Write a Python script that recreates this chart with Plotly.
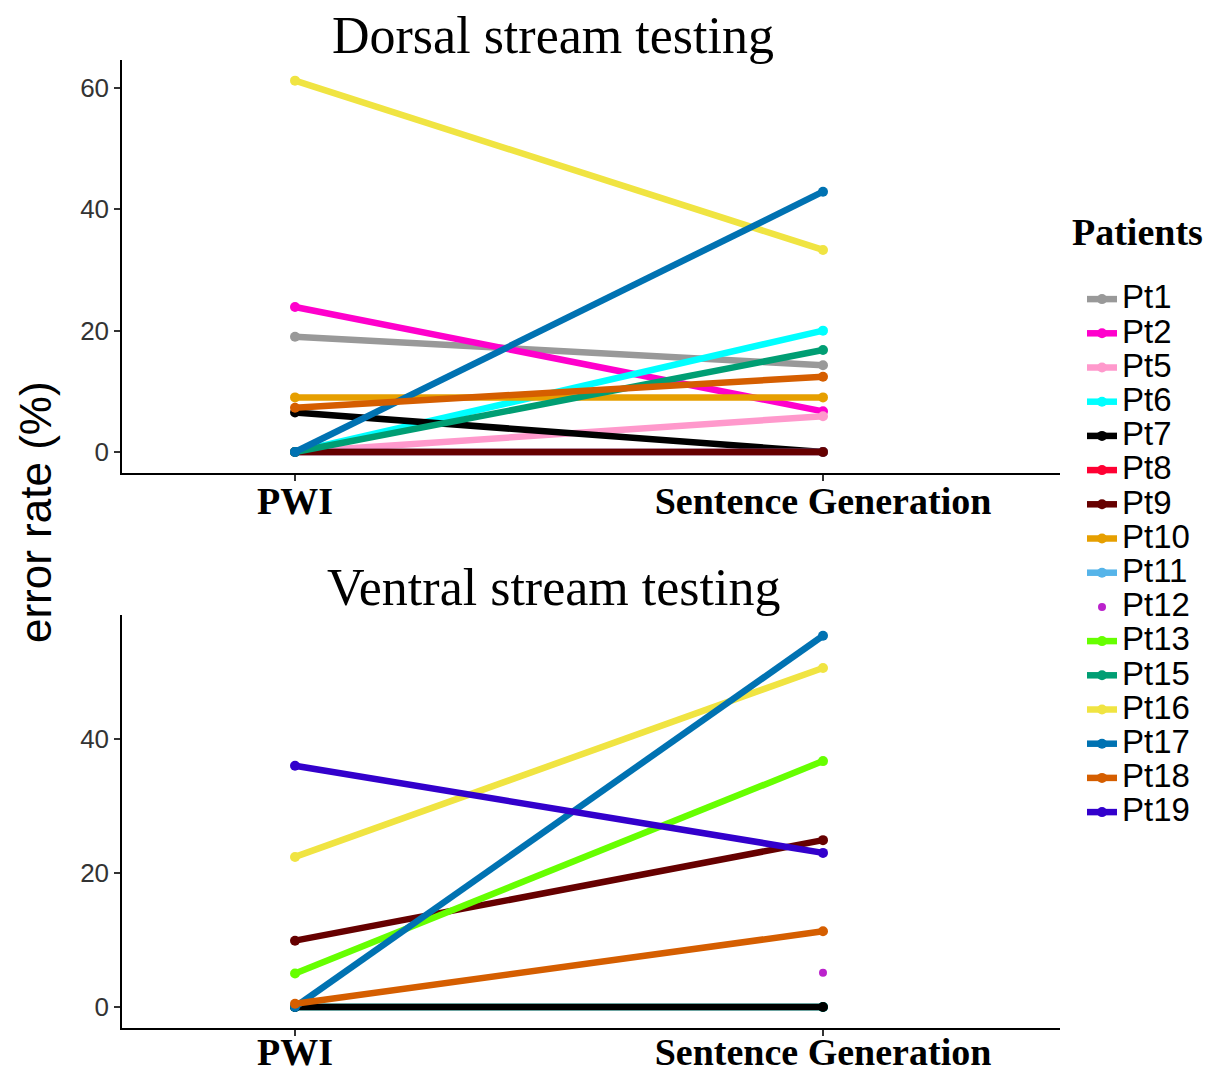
import plotly.graph_objects as go

conditions = ["PWI", "Sentence Generation"]
patients = ["Pt1", "Pt2", "Pt5", "Pt6", "Pt7", "Pt8", "Pt9", "Pt10", "Pt11",
            "Pt12", "Pt13", "Pt15", "Pt16", "Pt17", "Pt18", "Pt19"]
colors = {
    "Pt1": "#999999", "Pt2": "#ff00cc", "Pt5": "#ff99cc", "Pt6": "#00ffff",
    "Pt7": "#000000", "Pt8": "#ff0033", "Pt9": "#660000", "Pt10": "#e69f00",
    "Pt11": "#56b4e9", "Pt12": "#bb22cc", "Pt13": "#66ff00", "Pt15": "#009e73",
    "Pt16": "#f0e442", "Pt17": "#0072b2", "Pt18": "#d55e00", "Pt19": "#3300cc",
}

# Dorsal stream testing (error rate %, [PWI, Sentence Generation])
dorsal = {
    "Pt1": [19.0, 14.3], "Pt2": [23.9, 6.7], "Pt5": [0.0, 5.9], "Pt6": [0.0, 20.0],
    "Pt7": [6.5, 0.0], "Pt8": [0.0, 0.0], "Pt11": [0.0, 0.0], "Pt9": [0.0, 0.0],
    "Pt10": [9.0, 9.0], "Pt15": [0.0, 16.8], "Pt16": [61.2, 33.3],
    "Pt17": [0.0, 42.9], "Pt18": [7.3, 12.4],
}
dorsal_order = ["Pt1", "Pt2", "Pt5", "Pt6", "Pt7", "Pt8", "Pt11", "Pt9", "Pt10",
                "Pt15", "Pt16", "Pt17", "Pt18"]

# Ventral stream testing
ventral = {
    "Pt5": [0.0, 0.0], "Pt6": [0.0, 0.0], "Pt15": [0.0, 0.0], "Pt7": [0.0, 0.0],
    "Pt9": [9.9, 24.9], "Pt12": [None, 5.1], "Pt13": [5.0, 36.7],
    "Pt16": [22.4, 50.6], "Pt17": [0.0, 55.4], "Pt18": [0.5, 11.3], "Pt19": [36.0, 23.0],
}
ventral_order = ["Pt5", "Pt6", "Pt15", "Pt7", "Pt9", "Pt12", "Pt13", "Pt16",
                 "Pt17", "Pt18", "Pt19"]

fig = go.Figure()
shown = set()
legend_name = lambda p: f"<span style='font-size:33px'>{p}</span>"


def add(p, vals, xa, ya):
    first = p not in shown
    shown.add(p)
    only_marker = p == "Pt12"
    fig.add_trace(go.Scatter(
        x=conditions, y=vals, xaxis=xa, yaxis=ya,
        mode="markers" if only_marker else "lines+markers",
        name=legend_name(p), legendgroup=p, showlegend=first,
        legendrank=patients.index(p) + 1,
        line=dict(color=colors[p], width=6.5),
        marker=dict(color=colors[p], size=10 if not only_marker else 8),
    ))


for p in dorsal_order:
    add(p, dorsal[p], "x", "y")
for p in ventral_order:
    add(p, ventral[p], "x2", "y2")

# page has an 8px body margin: figure pixel = page pixel - OFF
OFF = 8
W, H = 1225 - OFF, 1076 - OFF
px = lambda v: (v - OFF) / W
py = lambda v: 1 - (v - OFF) / H

xd = [px(122), px(1060)]
xr = [-0.3277, 1.4489]
axis_common = dict(showline=True, linecolor="black", linewidth=1.5, ticks="outside",
                   ticklen=6, tickwidth=1.5, tickcolor="#333333", showgrid=False,
                   zeroline=False, automargin=False)
xfont = dict(family="Liberation Serif", size=38, color="black", weight="bold")
yfont = dict(family="Liberation Sans", size=26, color="#333333")

fig.update_layout(
    width=W, height=H,
    margin=dict(l=0, r=0, t=0, b=0, autoexpand=False),
    paper_bgcolor="white", plot_bgcolor="white",
    xaxis=dict(domain=xd, type="category", range=xr, anchor="y",
               tickfont=xfont, ticklabelstandoff=-12, **axis_common),
    yaxis=dict(domain=[py(473), py(60)], range=[-3.46, 64.6], anchor="x",
               tickvals=[0, 20, 40, 60], tickfont=yfont, **axis_common),
    xaxis2=dict(domain=xd, type="category", range=xr, anchor="y2",
                tickfont=xfont, ticklabelstandoff=-16, **axis_common),
    yaxis2=dict(domain=[py(1028), py(615)], range=[-3.13, 58.5], anchor="x2",
                tickvals=[0, 20, 40], tickfont=yfont, **axis_common),
    legend=dict(x=px(1082), xanchor="left", y=py(277), yanchor="top",
                font=dict(family="Liberation Sans", size=24, color="black"),
                bgcolor="rgba(0,0,0,0)", tracegroupgap=0, itemclick=False),
    showlegend=True,
    annotations=[
        dict(text="Dorsal stream testing", x=px(553), y=py(36), xref="paper", yref="paper",
             xanchor="center", yanchor="middle", showarrow=False,
             font=dict(family="Liberation Serif", size=52, color="black")),
        dict(text="Ventral stream testing", x=px(553), y=py(587), xref="paper", yref="paper",
             xanchor="center", yanchor="middle", showarrow=False,
             font=dict(family="Liberation Serif", size=52, color="black")),
        dict(text="error rate (%)", x=px(35), y=py(512), xref="paper", yref="paper",
             xanchor="center", yanchor="middle", textangle=-90, showarrow=False,
             font=dict(family="Liberation Sans", size=44, color="black")),
        dict(text="<b>Patients</b>", x=px(1070), y=py(232), xref="paper", yref="paper",
             xanchor="left", yanchor="middle", showarrow=False,
             font=dict(family="Liberation Serif", size=38, color="black")),
    ],
)

fig.write_html("out.html")
